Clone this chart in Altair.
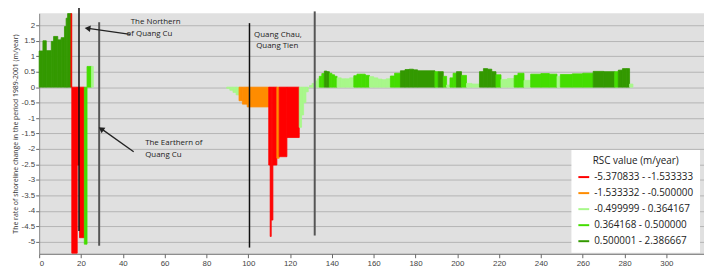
import altair as alt
import pandas as pd

# ---------------- data ----------------
classes = ["-5.370833 - -1.533333", "-1.533332 - -0.500000", "-0.499999 - 0.364167",
           "0.364168 - 0.500000", "0.500001 - 2.386667"]
class_colors = ["#ff0000", "#ff8c00", "#a8f88a", "#44dd00", "#339900"]

# segments along the shoreline (transect start, transect end, RSC value, class index)
seg_x0 = [0, 1.8, 3.4, 5.8, 6.9, 8.9, 10.5, 12.1, 12.9, 13.6, 15.2, 15.6, 18.2, 19.3, 21.6, 22.9, 25.0,
          89.7, 91.2, 92.7, 94.2, 95.6, 97.2, 99.5, 109.8, 110.5, 111.0, 111.8, 113.7, 114.8, 118.5,
          124.4, 125.5, 126.5, 127.6,
          129.3, 130.5, 131.7, 133.0, 134.0, 135.2, 136.4, 137.6, 138.8, 140.0, 141.3, 142.5, 144.5,
          146.5, 148.5, 150.5, 152.0, 154.0, 156.0, 158.0, 160.0, 162.0, 164.0, 166.0, 168.0, 170.0,
          172.8, 175.0, 177.0, 179.0, 181.0, 189.3, 190.9, 193.3, 194.9, 196.5, 198.0, 199.6, 202.0,
          204.4, 207.0, 210.6, 212.5, 214.5, 216.5, 218.5, 220.9, 224.0, 227.2, 229.0, 231.9, 235.1,
          240.0, 244.0, 247.7, 249.3, 255.0, 260.0, 265.0, 270.0, 275.3, 277.0, 279.0, 281.0, 282.4]
seg_x1 = [1.8, 3.4, 5.8, 6.9, 8.9, 10.5, 12.1, 12.9, 13.6, 15.2, 15.6, 18.2, 19.3, 21.6, 22.9, 25.0, 25.9,
          91.2, 92.7, 94.2, 95.6, 97.2, 99.5, 109.8, 110.5, 111.0, 111.8, 113.7, 114.8, 118.5, 124.4,
          125.5, 126.5, 127.6, 128.7,
          130.5, 131.7, 133.0, 134.0, 135.2, 136.4, 137.6, 138.8, 140.0, 141.3, 142.5, 144.5, 146.5,
          148.5, 150.5, 152.0, 154.0, 156.0, 158.0, 160.0, 162.0, 164.0, 166.0, 168.0, 170.0, 172.8,
          175.0, 177.0, 179.0, 181.0, 189.3, 190.9, 193.3, 194.9, 196.5, 198.0, 199.6, 202.0, 204.4,
          207.0, 210.6, 212.5, 214.5, 216.5, 218.5, 220.9, 224.0, 227.2, 229.0, 231.9, 235.1, 240.0,
          244.0, 247.7, 249.3, 255.0, 260.0, 265.0, 270.0, 275.3, 277.0, 279.0, 281.0, 282.4, 284.0]
seg_val = [1.17, 1.5, 1.18, 1.48, 1.64, 1.53, 1.6, 1.96, 2.23, 2.38, 2.38, -5.37, -2.52, -4.87, -5.08, 0.67, 0.67,
           -0.04, -0.1, -0.17, -0.25, -0.44, -0.55, -0.64, -2.52, -4.83, -4.3, -2.52, -2.3, -2.25, -1.63,
           -1.3, -0.9, -0.5, -0.15,
           0.05, 0.12, 0.2, 0.27, 0.35, 0.44, 0.52, 0.5, 0.45, 0.4, 0.35, 0.3, 0.27,
           0.27, 0.3, 0.37, 0.42, 0.42, 0.38, 0.34, 0.3, 0.26, 0.24, 0.27, 0.36, 0.45,
           0.53, 0.57, 0.58, 0.56, 0.53, 0.5, 0.5, 0.35, 0.07, 0.3, 0.45, 0.5, 0.38,
           0.12, 0.1, 0.5, 0.6, 0.58, 0.5, 0.4, 0.25, 0.28, 0.38, 0.45, 0.22, 0.42,
           0.44, 0.42, 0.35, 0.41, 0.43, 0.45, 0.51, 0.5, 0.5, 0.55, 0.6, 0.6, 0.1]
seg_cls = [4, 4, 4, 4, 4, 4, 4, 4, 4, 4, 0, 0, 0, 0, 3, 3, 2,
           2, 2, 2, 2, 1, 1, 1, 0, 0, 0, 0, 1, 0, 0,
           2, 2, 2, 2,
           2, 2, 2, 2, 3, 3, 4, 4, 3, 3, 3, 2, 2,
           2, 2, 3, 3, 3, 3, 2, 2, 2, 2, 2, 3, 3,
           4, 4, 4, 4, 4, 3, 4, 3, 2, 3, 3, 4, 3,
           2, 2, 4, 4, 4, 4, 3, 2, 2, 3, 3, 2, 3,
           3, 3, 2, 3, 3, 3, 4, 4, 3, 4, 4, 4, 2]

# annotation vertical lines
ann_x = [19.05, 28.7, 100.6, 131.8]
ann_top = [2.8, 2.1, 2.07, 2.45]
ann_bottom = [-4.65, -5.13, -5.19, -4.8]
ann_color = ["#111111", "#555555", "#111111", "#555555"]
ann_width = [1.5, 2.0, 1.5, 2.0]

# arrows
arr_x1 = [43.6, 45.2]
arr_y1 = [1.71, -2.09]
arr_x2 = [23.5, 29.8]
arr_y2 = [1.90, -1.35]
head_x = [23.6, 30.0]
head_y = [1.90, -1.37]
head_angle = [278, 305]

# annotation texts
txt = ["The Northern", "of Quang Cu", "The Earthern of", "Quang Cu", "Quang Chau,", "Quang Tien"]
txt_x = [43.8, 41.8, 50.7, 50.7, 102.8, 103.8]
txt_y = [2.10, 1.71, -1.80, -2.20, 1.70, 1.32]

x_ticks = list(range(0, 321, 20))
y_ticks = [2, 1.5, 1, 0.5, 0, -0.5, -1, -1.5, -2, -2.5, -3, -3.5, -4, -4.5, -5]

# ---------------- tables ----------------
df = pd.DataFrame({"x0": seg_x0, "x1": seg_x1, "v": seg_val,
                   "cls": [classes[c] for c in seg_cls]})
df["zero"] = 0.0
ann = pd.DataFrame({"x": ann_x, "top": ann_top, "bot": ann_bottom, "c": ann_color, "w": ann_width})
arr = pd.DataFrame({"x1": arr_x1, "y1": arr_y1, "x2": arr_x2, "y2": arr_y2})
heads = pd.DataFrame({"x": head_x, "y": head_y, "a": head_angle})
tdf = pd.DataFrame({"t": txt, "x": txt_x, "y": txt_y})

xscale = alt.Scale(domain=[0, 318], nice=False, zero=False)
yscale = alt.Scale(domain=[-5.39, 2.387], nice=False, zero=False)
cscale = alt.Scale(domain=classes, range=class_colors)

lab_font = "Liberation Sans Narrow, Liberation Sans, sans-serif"

x_axis = alt.Axis(values=x_ticks, grid=False, title=None, labelFont=lab_font, labelFontSize=8,
                  labelColor="#444", tickColor="#666", domainColor="#666", tickSize=4,
                  labelPadding=2, labelOverlap=False)
y_axis = alt.Axis(values=y_ticks, grid=True, gridColor="#b4b4b4", gridWidth=1,
                  labelExpr="'' + datum.value", labelFont=lab_font, labelFontSize=8,
                  labelColor="#444", tickColor="#666", domainColor="#888", tickSize=3.5,
                  labelPadding=1, labelOverlap=False, labelFlush=False,
                  title="The rate of shoreline change in the period 1989-2001 (m/year)",
                  titleFont="Open Sans", titleFontSize=7, titleFontWeight="normal",
                  titleColor="#333", titleX=-23.5, titleBaseline="middle", titleAlign="center")

legend = alt.Legend(
    title="RSC value (m/year)", orient="none", legendX=538, legendY=138,
    fillColor="white", padding=6, titleAnchor="middle", titleFontSize=10,
    titleFontWeight="normal", titleFont="Open Sans", titleColor="#222",
    labelFont="Open Sans", labelFontSize=10, labelColor="#222",
    symbolType="stroke", symbolStrokeWidth=2, symbolSize=120, rowPadding=4.2,
    titlePadding=5,
)

bars = alt.Chart(df).mark_rect(strokeWidth=0.8).encode(
    x=alt.X("x0:Q", scale=xscale, axis=x_axis),
    x2="x1:Q",
    y=alt.Y("v:Q", scale=yscale, axis=y_axis),
    y2="zero:Q",
    fill=alt.Fill("cls:N", scale=cscale, legend=legend),
    stroke=alt.Stroke("cls:N", scale=cscale, legend=legend),
)

rules = alt.Chart(ann).mark_rule().encode(
    x=alt.X("x:Q", scale=xscale, axis=x_axis),
    y=alt.Y("top:Q", scale=yscale, axis=y_axis),
    y2="bot:Q",
    color=alt.Color("c:N", scale=None),
    strokeWidth=alt.StrokeWidth("w:Q", scale=None),
)

arrows = alt.Chart(arr).mark_rule(color="#222", strokeWidth=1.3).encode(
    x=alt.X("x1:Q", scale=xscale, axis=x_axis), y=alt.Y("y1:Q", scale=yscale, axis=y_axis),
    x2="x2:Q", y2="y2:Q",
)

arrow_heads = alt.Chart(heads).mark_point(shape="triangle", filled=True, size=45,
                                          color="#222", opacity=1).encode(
    x=alt.X("x:Q", scale=xscale, axis=x_axis), y=alt.Y("y:Q", scale=yscale, axis=y_axis),
    angle=alt.Angle("a:Q", scale=None),
)

texts = alt.Chart(tdf).mark_text(align="left", baseline="middle", fontSize=8,
                                 font="Open Sans", color="#222").encode(
    x=alt.X("x:Q", scale=xscale, axis=x_axis), y=alt.Y("y:Q", scale=yscale, axis=y_axis),
    text="t:N",
)

chart = alt.layer(bars, rules, arrows, arrow_heads, texts).properties(
    width=672, height=243,
    autosize=alt.AutoSizeParams(type="none"),
    padding={"left": 31.5, "top": 4, "right": 0, "bottom": 15},
    background="white",
).configure_view(fill="#e0e0e0", strokeWidth=0)

chart.save("out.html", embed_options={"renderer": "svg", "actions": False})
